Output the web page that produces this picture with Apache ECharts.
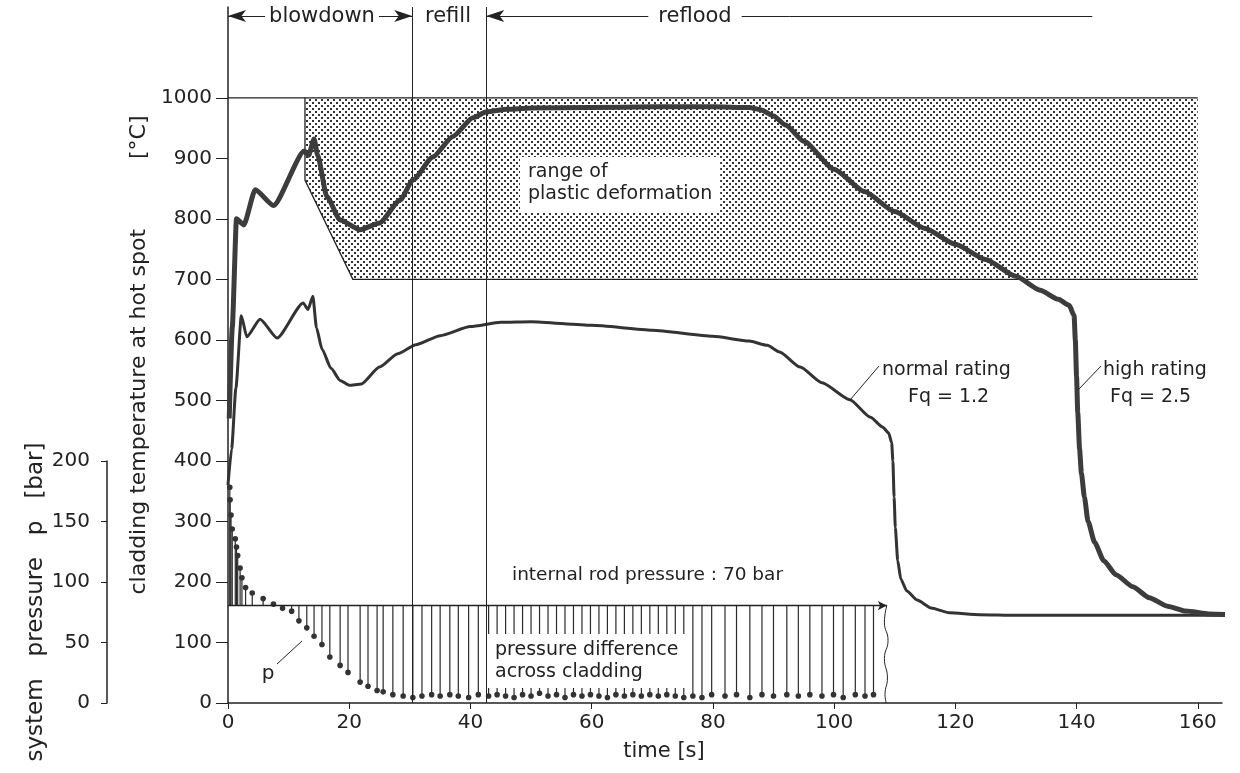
<!DOCTYPE html>
<html>
<head>
<meta charset="utf-8">
<title>cladding temperature at hot spot</title>
<script src="https://cdn.jsdelivr.net/npm/echarts@6/dist/echarts.min.js"></script>
<style>
  html, body { margin: 0; padding: 0; background: #fff; }
  #main { width: 1240px; height: 773px; }
</style>
</head>
<body>
<div id="main"></div>
<script>
// time axis [s] and tick labels
const xTicks = [0, 20, 40, 60, 80, 100, 120, 140, 160];
const tempTicks = [0, 100, 200, 300, 400, 500, 600, 700, 800, 900, 1000];
const pressTicks = [0, 50, 100, 150, 200];

// high rating Fq = 2.5
const highTime = [0.2, 0.7, 1.4, 2.6, 4.5, 7.5, 12.6, 13.3, 14.2, 14.8, 16.3, 18.5, 21.8, 25, 28.4, 30.5, 33.8, 37.1, 40.4, 42.7, 46, 50, 60, 70, 80, 86, 88, 90, 92, 95, 100, 105, 110, 115, 120, 125, 130, 134, 137, 138.8, 139.6, 139.8, 140.0, 140.2, 140.5, 140.8, 141.3, 141.9, 143.0, 144.5, 146.5, 149.3, 152, 155, 158, 162, 166.5];
const highTemp = [470, 620, 800, 790, 848, 822, 912, 905, 932, 905, 837, 798, 782, 793, 831, 864, 902, 936, 967, 977, 981, 983, 984, 985, 985, 984, 980, 970, 955, 928, 882, 845, 812, 784, 758, 733, 705, 682, 667, 657, 640, 600, 540, 480, 420, 380, 340, 300, 265, 235, 212, 192, 174, 160, 152, 147, 145];

// normal rating Fq = 1.2
const normalTime = [0, 0.6, 1.3, 2.2, 3.1, 5.3, 8.1, 12.4, 13.2, 14.0, 14.6, 15.5, 17, 18.5, 20, 22, 25, 28, 31, 35, 40, 45, 50, 60, 70, 80, 86, 89, 91, 94.4, 98, 102.6, 106, 108, 109, 109.5, 109.7, 109.9, 110.1, 110.5, 111, 112, 113.7, 116, 119, 124, 130, 166.5];
const normalTemp = [360, 420, 520, 640, 605, 634, 603, 661, 650, 672, 620, 585, 553, 533, 525, 527, 555, 577, 592, 607, 622, 629, 630, 624, 616, 606, 598, 591, 580, 555, 529, 501, 472, 456, 446, 430, 400, 340, 290, 235, 205, 185, 170, 157, 149, 146, 145, 145];

// system pressure p [bar]
const pressTime = [0.3, 0.35, 0.5, 0.7, 1.2, 1.4, 1.6, 2.0, 2.3, 2.9, 4.0, 5.8, 7.5, 9.0, 10.5, 11.7, 13.0, 14.2, 15.5, 16.8, 18.5, 19.8, 21.8, 23.1, 24.6, 25.6, 27.2, 28.9, 30.5, 32.0, 33.6, 35.0, 36.6, 38.0, 39.7, 41.3, 43.0, 44.4, 45.8, 47.2, 48.6, 50.0, 51.4, 52.8, 54.2, 55.6, 57.0, 58.4, 59.8, 61.2, 62.6, 64.0, 65.4, 66.8, 68.2, 69.6, 71.0, 72.4, 73.8, 75.2, 76.7, 78.2, 79.8, 82.0, 83.9, 86.1, 88.1, 90.0, 92.2, 94.1, 96.0, 98.0, 99.9, 101.5, 103.5, 105.1, 106.5];
const pressBar = [155, 146, 135, 125, 118, 112, 106, 97, 90, 83, 79, 75, 71, 68, 66, 59, 54, 48, 42, 33, 27, 22, 15, 12, 9, 8, 6, 5, 4, 5, 6, 5, 6, 5, 4, 6, 5, 6, 5, 4, 6, 5, 7, 5, 6, 4, 6, 5, 6, 5, 4, 6, 5, 6, 5, 6, 5, 6, 5, 4, 5, 4, 6, 5, 6, 4, 6, 5, 6, 5, 6, 5, 6, 4, 6, 5, 6];

// internal rod pressure line
const rodPressure = 70;
const rodEnd = 108.7;
const breakTime = [108.7, 108.3, 108.9, 108.3, 108.8, 108.4, 108.6];
const breakBar = [70, 58, 45, 32, 18, 6, 0];

// range of plastic deformation
const plasticTime = [12.7, 12.7, 20.6, 160, 160];
const plasticTemp = [1000, 864, 700, 700, 1000];

// phase boundaries: blowdown / refill / reflood
const phaseBounds = [0, 30.4, 42.6, 142.6];

const FONT = 'DejaVu Sans';
const INK = '#222';

const pat = document.createElement('canvas');
pat.width = 6;
pat.height = 6;
const pctx = pat.getContext('2d');
pctx.fillStyle = '#333';
pctx.fillRect(0, 0, 2, 2);
pctx.fillRect(3, 3, 2, 2);

const zip = (a, b) => a.map((v, i) => [v, b[i]]);
const plain = (v) => String(v);
const arrowY = 1135;
const head = { symbol: 'arrow', symbolSize: [9, 18] };

const chart = echarts.init(document.getElementById('main'));
chart.setOption({
  animation: false,
  backgroundColor: '#fff',
  textStyle: { fontFamily: FONT, color: INK },
  grid: [
    { left: 228, right: 18, top: 7, bottom: 70 },
    { left: 107, width: 1, top: 461, bottom: 70 }
  ],
  xAxis: [{
    type: 'value', gridIndex: 0, min: 0, max: 164,
    name: 'time [s]', nameLocation: 'middle', nameGap: 38,
    nameTextStyle: { fontSize: 21, fontFamily: FONT, color: INK, padding: [0, 122, 0, 0] },
    axisLine: { show: true, lineStyle: { color: INK, width: 1.5 } },
    axisTick: { show: true, length: 6, customValues: xTicks, lineStyle: { color: INK } },
    axisLabel: { customValues: xTicks, formatter: plain, margin: 10, fontSize: 20, fontFamily: FONT, color: INK },
    splitLine: { show: false }
  }, {
    type: 'value', gridIndex: 1, show: false, min: 0, max: 1
  }],
  yAxis: [{
    type: 'value', gridIndex: 0, min: 0, max: 1150,
    name: 'cladding temperature at hot spot          [°C]',
    nameLocation: 'middle', nameGap: 68, nameRotate: 90,
    nameTextStyle: { fontSize: 22, fontFamily: FONT, color: INK },
    axisLine: { show: true, lineStyle: { color: INK, width: 1.5 } },
    axisTick: { show: true, length: 12, customValues: tempTicks, lineStyle: { color: INK } },
    axisLabel: { customValues: tempTicks, formatter: plain, margin: 16, fontSize: 20, fontFamily: FONT, color: INK },
    splitLine: { show: false }
  }, {
    type: 'value', gridIndex: 0, min: 0, max: 500, show: false
  }, {
    type: 'value', gridIndex: 1, min: 0, max: 200, interval: 50,
    name: 'system   pressure   p   [bar]',
    nameLocation: 'middle', nameGap: 51, nameRotate: 90,
    nameTextStyle: { fontSize: 23, fontFamily: FONT, color: INK, padding: [0, 40, 0, 0] },
    axisLine: { show: true, lineStyle: { color: INK, width: 1.5 } },
    axisTick: { show: true, length: 6, customValues: pressTicks, lineStyle: { color: INK } },
    axisLabel: { customValues: pressTicks, formatter: plain, margin: 17, fontSize: 20, fontFamily: FONT, color: INK },
    splitLine: { show: false }
  }],
  series: [
    {
      // shaded range of plastic deformation
      type: 'custom', xAxisIndex: 0, yAxisIndex: 0, z: 1, silent: true,
      data: [[plasticTime[0], plasticTemp[0]]],
      renderItem: function (params, api) {
        const pts = plasticTime.map((t, i) => api.coord([t, plasticTemp[i]]));
        const top0 = api.coord([0, plasticTemp[0]]);
        return {
          type: 'group',
          children: [
            { type: 'polygon', shape: { points: pts }, style: { fill: { image: pat, repeat: 'repeat' } } },
            { type: 'polyline', shape: { points: pts.slice(0, 4) }, style: { stroke: INK, lineWidth: 1.3, fill: null } },
            { type: 'line', shape: { x1: top0[0], y1: top0[1], x2: pts[4][0], y2: pts[4][1] }, style: { stroke: INK, lineWidth: 1.3 } }
          ]
        };
      }
    },
    {
      // pressure difference stems and system pressure dots
      type: 'custom', xAxisIndex: 0, yAxisIndex: 1, z: 2, silent: true,
      data: zip(pressTime, pressBar),
      renderItem: function (params, api) {
        const t = api.value(0);
        const p = api.value(1);
        const a = api.coord([t, rodPressure]);
        const b = api.coord([t, p]);
        return {
          type: 'group',
          children: [
            { type: 'line', shape: { x1: a[0], y1: a[1], x2: b[0], y2: b[1] }, style: { stroke: '#2a2a2a', lineWidth: 1.2 } },
            { type: 'circle', shape: { cx: b[0], cy: b[1], r: 2.8 }, style: { fill: '#333' } }
          ]
        };
      }
    },
    {
      // internal rod pressure 70 bar
      type: 'line', xAxisIndex: 0, yAxisIndex: 1, z: 3, silent: true,
      data: [
        { value: [0, rodPressure], symbol: 'none' },
        { value: [rodEnd, rodPressure], symbol: 'arrow', symbolRotate: -90, symbolSize: [7, 9] }
      ],
      showSymbol: true,
      itemStyle: { color: INK },
      lineStyle: { color: INK, width: 1.5 }
    },
    {
      type: 'line', xAxisIndex: 0, yAxisIndex: 1, z: 3, silent: true,
      data: zip(breakTime, breakBar), symbol: 'none', smooth: 0.5,
      lineStyle: { color: INK, width: 1 }
    },
    {
      name: 'normal rating', type: 'line', xAxisIndex: 0, yAxisIndex: 0, z: 4, silent: true,
      data: zip(normalTime, normalTemp), symbol: 'none', smooth: 0.2, smoothMonotone: 'x', clip: false,
      lineStyle: { color: '#333', width: 3 },
      markLine: {
        silent: true, symbol: ['none', 'none'], label: { show: false },
        lineStyle: { color: INK, width: 1, type: 'solid' },
        data: [
          { xAxis: phaseBounds[1] },
          { xAxis: phaseBounds[2] },
          [Object.assign({ coord: [phaseBounds[0], arrowY] }, head),
           Object.assign({ coord: [phaseBounds[1], arrowY] }, head)],
          [Object.assign({ coord: [phaseBounds[2], arrowY] }, head),
           { coord: [phaseBounds[3], arrowY], symbol: 'none' }]
        ]
      }
    },
    {
      name: 'high rating', type: 'line', xAxisIndex: 0, yAxisIndex: 0, z: 5, silent: true,
      data: zip(highTime, highTemp), symbol: 'none', smooth: 0.2, smoothMonotone: 'x', clip: false,
      lineStyle: { color: '#3c3c3c', width: 5 }
    }
  ],
  graphic: [
    { type: 'text', z: 100, x: 322, y: 17, style: { text: 'blowdown', fontSize: 21, fontFamily: FONT, fill: INK, align: 'center', verticalAlign: 'middle', backgroundColor: '#fff', padding: [2, 4] } },
    { type: 'text', z: 100, x: 448, y: 17, style: { text: 'refill', fontSize: 21, fontFamily: FONT, fill: INK, align: 'center', verticalAlign: 'middle' } },
    { type: 'text', z: 100, x: 695, y: 17, style: { text: 'reflood', fontSize: 21, fontFamily: FONT, fill: INK, align: 'center', verticalAlign: 'middle', backgroundColor: '#fff', padding: [2, 10] } },
    { type: 'text', z: 100, x: 520, y: 157, style: { text: 'range of\nplastic deformation', fontSize: 19, lineHeight: 22, fontFamily: FONT, fill: INK, align: 'left', verticalAlign: 'top', backgroundColor: '#fff', padding: [4, 8, 7, 8] } },
    { type: 'text', z: 100, x: 882, y: 370, style: { text: 'normal rating', fontSize: 19, fontFamily: FONT, fill: INK, align: 'left', verticalAlign: 'middle' } },
    { type: 'text', z: 100, x: 908, y: 397, style: { text: 'Fq = 1.2', fontSize: 19, fontFamily: FONT, fill: INK, align: 'left', verticalAlign: 'middle' } },
    { type: 'line', z: 100, shape: { x1: 879, y1: 366, x2: 850, y2: 400 }, style: { stroke: INK, lineWidth: 1 } },
    { type: 'text', z: 100, x: 1103, y: 370, style: { text: 'high rating', fontSize: 19, fontFamily: FONT, fill: INK, align: 'left', verticalAlign: 'middle' } },
    { type: 'text', z: 100, x: 1110, y: 397, style: { text: 'Fq = 2.5', fontSize: 19, fontFamily: FONT, fill: INK, align: 'left', verticalAlign: 'middle' } },
    { type: 'line', z: 100, shape: { x1: 1101, y1: 366, x2: 1078, y2: 390 }, style: { stroke: INK, lineWidth: 1 } },
    { type: 'text', z: 100, x: 512, y: 575, style: { text: 'internal rod pressure : 70 bar', fontSize: 18.5, fontFamily: FONT, fill: INK, align: 'left', verticalAlign: 'middle' } },
    { type: 'text', z: 100, x: 487, y: 634, style: { text: 'pressure difference\nacross cladding', fontSize: 19, lineHeight: 22, fontFamily: FONT, fill: INK, align: 'left', verticalAlign: 'top', backgroundColor: '#fff', padding: [5, 8, 5, 8] } },
    { type: 'text', z: 100, x: 268, y: 674, style: { text: 'p', fontSize: 20, fontFamily: FONT, fill: INK, align: 'center', verticalAlign: 'middle' } },
    { type: 'line', z: 100, shape: { x1: 277, y1: 664, x2: 302, y2: 641 }, style: { stroke: INK, lineWidth: 1 } }
  ]
});
</script>
</body>
</html>
